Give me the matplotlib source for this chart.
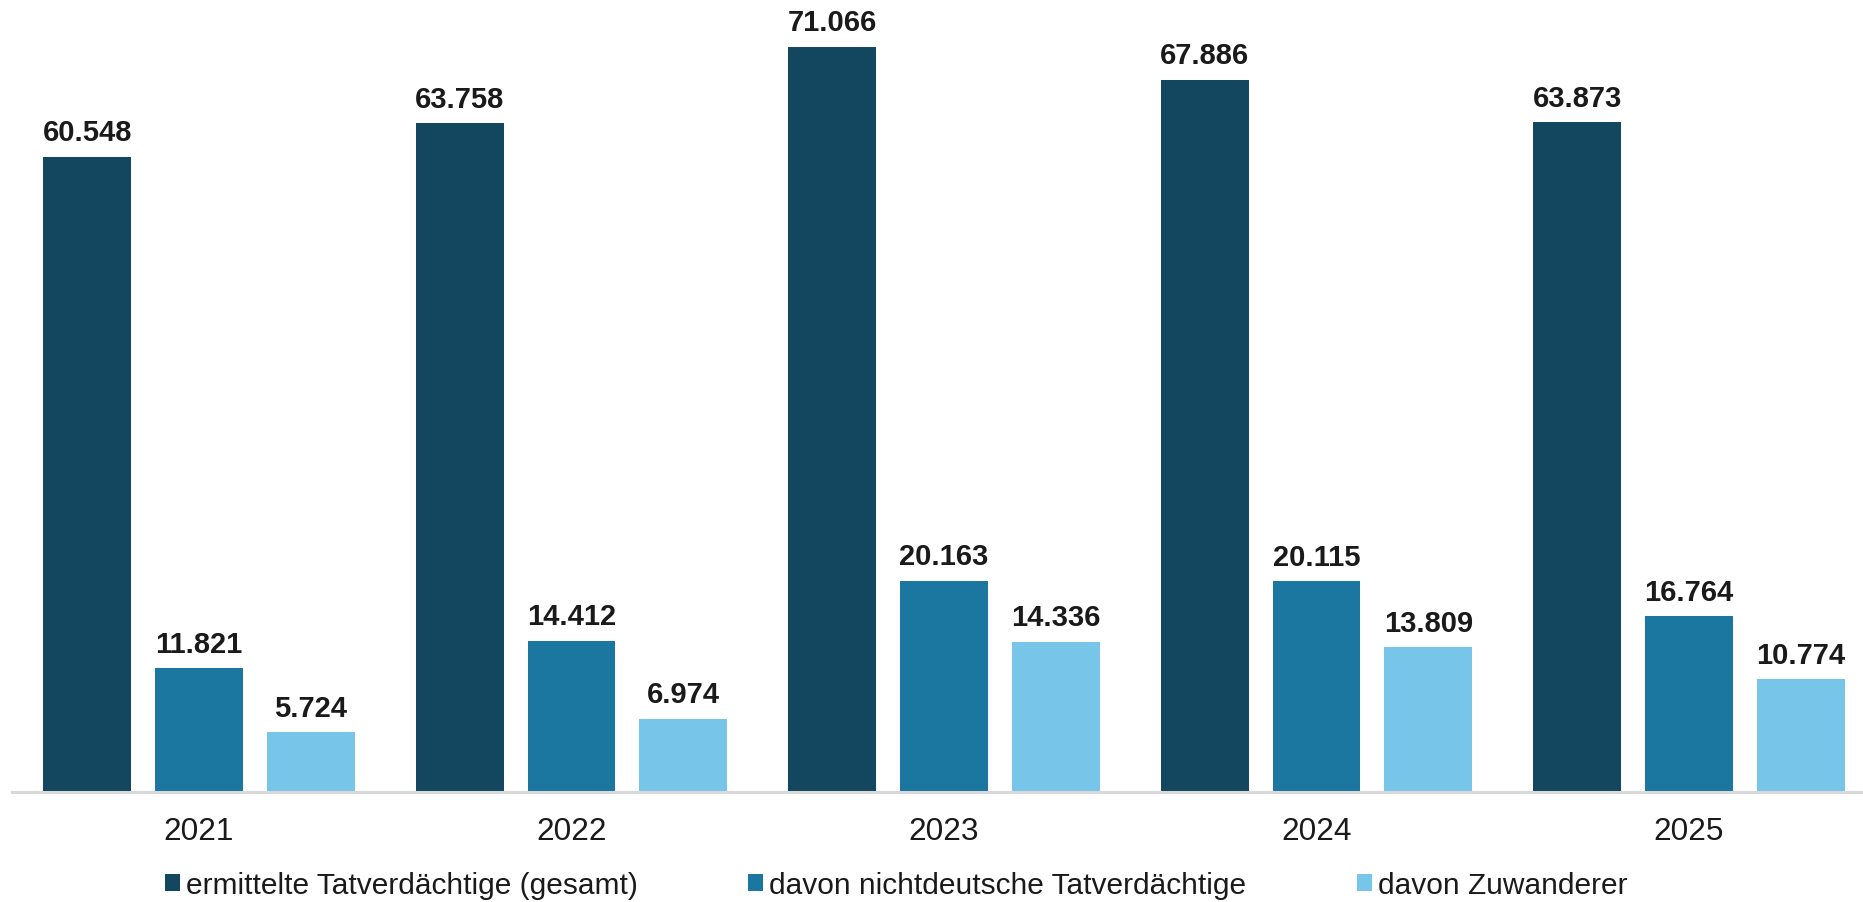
import matplotlib
matplotlib.use("Agg")
import matplotlib.pyplot as plt
import numpy as np

years = ["2021", "2022", "2023", "2024", "2025"]
gesamt = [60548, 63758, 71066, 67886, 63873]
nichtdeutsch = [11821, 14412, 20163, 20115, 16764]
zuwanderer = [5724, 6974, 14336, 13809, 10774]

series = [
    ("ermittelte Tatverdächtige (gesamt)", gesamt, "#12475f"),
    ("davon nichtdeutsche Tatverdächtige", nichtdeutsch, "#1b76a0"),
    ("davon Zuwanderer", zuwanderer, "#77c5e9"),
]

plt.rcParams["font.family"] = ["Liberation Sans", "DejaVu Sans"]

fig = plt.figure(figsize=(18.63, 9.03), dpi=100)
ax = fig.add_axes([12 / 1863, 110 / 903, 1 - 12 / 1863, 793 / 903])

x = np.arange(len(years))
step = 0.30
width = 0.236
for i, (name, vals, color) in enumerate(series):
    pos = x + (i - 1) * step
    bars = ax.bar(pos, vals, width, color=color, label=name)
    labels = [f"{v:,}".replace(",", ".") for v in vals]
    ax.bar_label(bars, labels=labels, padding=7.5, fontsize=21,
                 fontweight="bold", color="#1a1a1a")

ax.set_xlim(-0.502, 4.467)
ax.set_ylim(0, 75600)
ax.set_xticks(x)
ax.set_xticklabels(years, fontsize=22.7, color="#1a1a1a")
ax.tick_params(axis="x", length=0, pad=17)
ax.set_yticks([])
for s in ["top", "right", "left"]:
    ax.spines[s].set_visible(False)
ax.spines["bottom"].set_color("#d9d9d9")
ax.spines["bottom"].set_linewidth(2.2)

fig.legend(loc="center", bbox_to_anchor=(0.481, 0.019), ncol=3, frameon=False,
           fontsize=21.5, handlelength=0.5, handleheight=0.5, handletextpad=0.2,
           columnspacing=3.7, labelcolor="#1a1a1a")

fig.savefig("out.png", dpi=100)
